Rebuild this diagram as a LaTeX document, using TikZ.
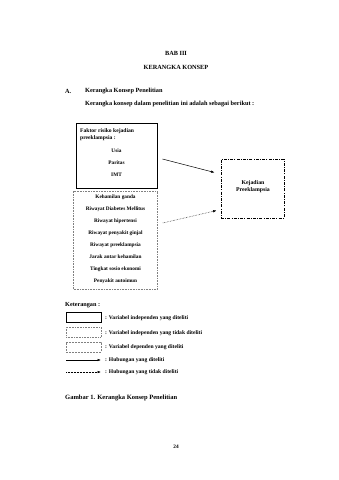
\documentclass[tikz,border=0pt]{standalone}
\usepackage{fontspec}
\setmainfont{Liberation Serif}
\usepackage{tikz}
\usetikzlibrary{positioning, arrows.meta}

\begin{document}
\begin{tikzpicture}[x=1pt, y=-1pt,
      txt/.style={font=\fontsize{6.3}{8}\selectfont\bfseries, inner sep=0pt},
      small/.style={font=\fontsize{5.3}{6.4}\selectfont\bfseries, inner sep=0pt, align=center},
      legtxt/.style={font=\fontsize{5.6}{6.6}\selectfont\bfseries, inner sep=0pt, anchor=west},
      indbox/.style={draw, line width=0.8pt, inner sep=0pt},
      tdkbox/.style={draw, gray, densely dotted, line width=0.6pt, inner sep=0pt},
      depbox/.style={draw, line width=0.8pt, dash pattern=on 3pt off 1.2pt on 1pt off 1.2pt, inner sep=0pt},
      arr/.style={-{Latex[length=3.5pt, width=2.5pt]}, line width=0.5pt},
      darr/.style={-{Latex[length=3.5pt, width=2.5pt]}, line width=0.5pt, densely dotted}
    ]
    \useasboundingbox[fill=white] (0,0) rectangle (339,480);

    % heading
    \node[txt] (bab)   at (176,53) {BAB III};
    \node[txt] (judul) at (176,67) {KERANGKA KONSEP};
    \node[txt, anchor=west] (huruf) at (65,91) {A.};
    \node[txt, anchor=west] (sub)   at (85,91) {Kerangka Konsep Penelitian};
    \node[txt, anchor=west] (kal)   at (85,104) {Kerangka konsep dalam penelitian ini adalah sebagai berikut :};

    % variabel yang diteliti
    \node[indbox, minimum width=81pt, minimum height=65pt] (faktor) at (116.5,156) {};
    \node[small, anchor=north west, align=left, font=\fontsize{5.6}{7}\selectfont\bfseries] (fjudul) at (80,128) {Faktor risiko kejadian\\preeklampsia :};
    \node[small] (usia) at (116.5,151) {Usia};
    \node[small] (paritas) at (116.5,163) {Paritas};
    \node[small] (imt) at (116.5,175) {IMT};

    % variabel yang tidak diteliti
    \node[tdkbox, minimum width=84pt, minimum height=98pt] (lain) at (115.5,240) {};
    \foreach \t [count=\i from 0] in {Kehamilan ganda, Riwayat Diabetes Mellitus,
        Riwayat hipertensi, Riwayat penyakit ginjal, Riwayat preeklampsia,
        Jarak antar kehamilan, Tingkat sosio ekonomi, Penyakit autoimun}
      \node[small] (l\i) at (115.5,197+12*\i) {\t};

    % variabel dependen
    \node[depbox, minimum width=63pt, minimum height=59pt] (kejadian) at (252.5,188.5) {};
    \node[small, font=\fontsize{5.8}{7.2}\selectfont\bfseries] (kjtxt) at (253,187) {Kejadian\\Preeklampsia};

    % hubungan
    \draw[arr]  ([xshift=5pt,yshift=-3pt]faktor.east) -- ([xshift=-6pt,yshift=16pt]kejadian.west);
    \draw[darr] ([xshift=5pt,yshift=17pt]lain.east) -- ([xshift=-4pt,yshift=-22pt]kejadian.west);

    % keterangan
    \node[legtxt, font=\fontsize{6.2}{7}\selectfont\bfseries] (ket) at (65,305) {Keterangan :};
    \node[indbox, minimum width=35pt, minimum height=10pt] (k1) at (83.5,317) {};
    \node[tdkbox, minimum width=35pt, minimum height=10pt] (k2) at (83.5,332) {};
    \node[depbox, gray, line width=0.5pt, dash pattern=on 2pt off 1pt, minimum width=35pt, minimum height=10pt] (k3) at (83.5,347) {};
    \coordinate (k4a) at (66,360);
    \coordinate (k4b) at (101,360);
    \coordinate (k5a) at (66,372);
    \coordinate (k5b) at (101,372);
    \draw[arr]  (k4a) -- (k4b);
    \draw[darr] (k5a) -- (k5b);
    \node[legtxt] (t1) at (105,318) {: Variabel independen yang diteliti};
    \node[legtxt] (t2) at (105,333) {: Variabel independen yang tidak diteliti};
    \node[legtxt] (t3) at (105,347) {: Variabel dependen yang diteliti};
    \node[legtxt] (t4) at (105,360) {: Hubungan yang diteliti};
    \node[legtxt] (t5) at (105,372) {: Hubungan yang tidak diteliti};

    \node[txt, font=\fontsize{6.5}{8}\selectfont\bfseries, anchor=west] (gambar) at (65,398) {Gambar 1. Kerangka Konsep Penelitian};
    \node[small] (hal) at (176,447) {24};
  \end{tikzpicture}
\end{document}
